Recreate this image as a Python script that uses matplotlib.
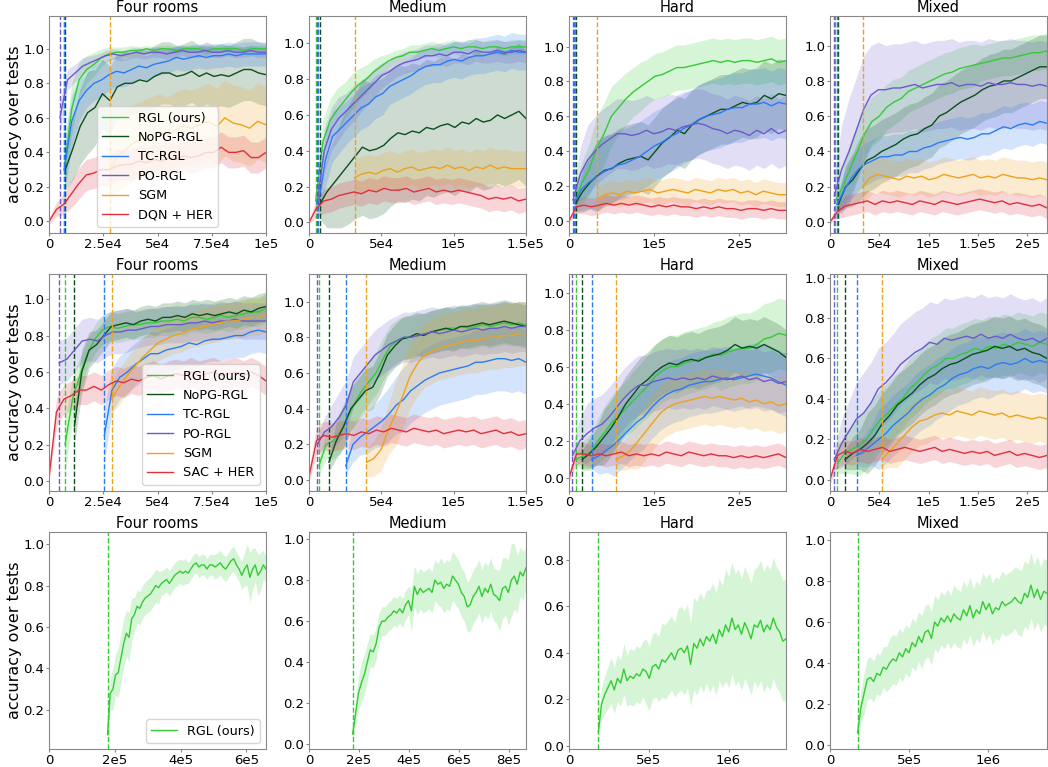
import numpy as np
import matplotlib
matplotlib.use('Agg')
import matplotlib.pyplot as plt

# method colours / labels
c_rgl = '#33cc33'
c_nopg = '#0b4f1c'
c_tc = '#2a7bf6'
c_po = '#6a5acd'
c_sgm = '#eea21b'
c_her = '#e0303c'

titles = ['Four rooms', 'Medium', 'Hard', 'Mixed']
xmax_top = [1e5, 1.5e5, 2.55e5, 2.2e5]
xmax_bot = [6.6e5, 8.7e5, 1.36e6, 1.37e6]

# ---------------- row 1 (DQN based) ----------------
r1c1_start = [7000, 7500, 7000, 5000, 28000, 0]
r1c1_rgl = [0.30, 0.65, 0.82, 0.88, 0.91, 0.95, 0.97, 0.98, 0.98, 0.99, 0.99, 1.0, 0.99, 1.0, 1.0, 0.99, 1.0, 1.0, 1.0, 0.99, 1.0, 1.0, 1.0, 1.0, 0.99, 1.0, 1.0, 1.0]
r1c1_rgl_sd = [0.12, 0.15, 0.10, 0.08, 0.07, 0.05, 0.04, 0.03, 0.03, 0.03] + [0.02] * 18
r1c1_nopg = [0.30, 0.42, 0.55, 0.63, 0.66, 0.74, 0.70, 0.78, 0.80, 0.80, 0.82, 0.81, 0.84, 0.86, 0.86, 0.84, 0.85, 0.87, 0.84, 0.86, 0.84, 0.85, 0.84, 0.86, 0.88, 0.88, 0.86, 0.85]
r1c1_nopg_sd = [0.12, 0.18, 0.22, 0.24, 0.22, 0.2, 0.2, 0.19] + [0.18] * 20
r1c1_tc = [0.30, 0.58, 0.70, 0.76, 0.80, 0.82, 0.85, 0.87, 0.86, 0.88, 0.90, 0.89, 0.91, 0.92, 0.93, 0.95, 0.94, 0.95, 0.96, 0.95, 0.96, 0.96, 0.97, 0.96, 0.97, 0.97, 0.97, 0.97]
r1c1_tc_sd = [0.15, 0.15, 0.12, 0.1, 0.1, 0.1, 0.09, 0.09, 0.08, 0.08] + [0.07] * 18
r1c1_po = [0.60, 0.82, 0.86, 0.90, 0.92, 0.94, 0.96, 0.97, 0.96, 0.97, 0.98, 0.97, 0.98, 0.98, 0.97, 0.98, 0.99, 0.98, 0.98, 0.99, 0.98, 0.98, 0.99, 0.98, 0.98, 0.99, 0.98, 0.98]
r1c1_po_sd = [0.1, 0.06, 0.05, 0.05, 0.04] + [0.03] * 23
r1c1_sgm = [0.30, 0.38, 0.42, 0.46, 0.48, 0.50, 0.52, 0.50, 0.53, 0.55, 0.54, 0.56, 0.58, 0.55, 0.60, 0.57, 0.56, 0.54, 0.58, 0.56]
r1c1_sgm_sd = [0.15, 0.2] + [0.22] * 18
r1c1_her = [0.0, 0.07, 0.10, 0.16, 0.22, 0.27, 0.28, 0.30, 0.30, 0.32, 0.33, 0.33, 0.35, 0.34, 0.36, 0.35, 0.37, 0.36, 0.38, 0.37, 0.38, 0.40, 0.40, 0.43, 0.40, 0.40, 0.41, 0.37, 0.37, 0.40]
r1c1_her_sd = [0.02, 0.04, 0.06, 0.08] + [0.09] * 26

r1c2_start = [4600, 7400, 6400, 5500, 31500, 0]
r1c2_rgl = [0.12, 0.45, 0.57, 0.63, 0.68, 0.73, 0.77, 0.80, 0.84, 0.87, 0.90, 0.92, 0.93, 0.95, 0.95, 0.96, 0.97, 0.96, 0.97, 0.98, 0.97, 0.98, 0.98, 0.97, 0.98, 0.98, 0.97, 0.98, 0.98, 0.98]
r1c2_rgl_sd = [0.05, 0.12, 0.12, 0.12, 0.1, 0.1, 0.09, 0.08, 0.07, 0.06] + [0.04] * 20
r1c2_nopg = [0.10, 0.17, 0.22, 0.27, 0.32, 0.37, 0.42, 0.40, 0.41, 0.43, 0.47, 0.50, 0.49, 0.51, 0.50, 0.53, 0.52, 0.54, 0.55, 0.53, 0.56, 0.55, 0.58, 0.56, 0.57, 0.60, 0.58, 0.60, 0.62, 0.58]
r1c2_nopg_sd = [0.08, 0.2, 0.25, 0.3, 0.33, 0.35] + [0.38] * 24
r1c2_tc = [0.10, 0.35, 0.48, 0.52, 0.56, 0.60, 0.64, 0.66, 0.70, 0.72, 0.76, 0.78, 0.80, 0.82, 0.85, 0.87, 0.88, 0.88, 0.90, 0.91, 0.90, 0.92, 0.93, 0.93, 0.94, 0.95, 0.94, 0.96, 0.95, 0.95]
r1c2_tc_sd = [0.08, 0.15, 0.14, 0.13, 0.12, 0.12, 0.12, 0.12, 0.12, 0.12] + [0.1] * 20
r1c2_po = [0.10, 0.40, 0.52, 0.58, 0.62, 0.66, 0.70, 0.74, 0.78, 0.82, 0.84, 0.87, 0.89, 0.90, 0.91, 0.93, 0.93, 0.94, 0.93, 0.95, 0.95, 0.94, 0.96, 0.95, 0.95, 0.96, 0.95, 0.95, 0.96, 0.95]
r1c2_po_sd = [0.08, 0.12, 0.12, 0.12, 0.1, 0.1, 0.09, 0.08, 0.08, 0.07] + [0.06] * 20
r1c2_sgm = [0.25, 0.27, 0.28, 0.27, 0.29, 0.30, 0.28, 0.30, 0.31, 0.29, 0.30, 0.31, 0.30, 0.32, 0.30, 0.31, 0.29, 0.31, 0.30, 0.32, 0.30, 0.31, 0.30, 0.30, 0.30]
r1c2_sgm_sd = [0.1] * 25
r1c2_her = [0.0, 0.08, 0.12, 0.13, 0.15, 0.16, 0.17, 0.16, 0.18, 0.17, 0.19, 0.18, 0.18, 0.19, 0.17, 0.18, 0.19, 0.17, 0.18, 0.17, 0.18, 0.17, 0.16, 0.15, 0.13, 0.14, 0.13, 0.14, 0.12, 0.13]
r1c2_her_sd = [0.01, 0.05] + [0.07] * 28

r1c3_start = [7000, 7800, 6000, 4700, 33000, 0]
r1c3_rgl = [0.12, 0.22, 0.30, 0.42, 0.50, 0.60, 0.65, 0.70, 0.74, 0.77, 0.80, 0.83, 0.84, 0.86, 0.88, 0.88, 0.89, 0.90, 0.91, 0.92, 0.91, 0.92, 0.91, 0.92, 0.92, 0.91, 0.92, 0.93, 0.91, 0.92]
r1c3_rgl_sd = [0.05, 0.12, 0.15, 0.18, 0.18, 0.17, 0.16, 0.15, 0.14, 0.14] + [0.13] * 20
r1c3_nopg = [0.10, 0.17, 0.22, 0.26, 0.29, 0.30, 0.33, 0.35, 0.36, 0.37, 0.35, 0.40, 0.45, 0.48, 0.52, 0.50, 0.55, 0.58, 0.60, 0.62, 0.64, 0.64, 0.66, 0.68, 0.67, 0.68, 0.72, 0.70, 0.73, 0.72]
r1c3_nopg_sd = [0.05, 0.12, 0.15] + [0.2] * 27
r1c3_tc = [0.10, 0.18, 0.22, 0.25, 0.28, 0.30, 0.32, 0.33, 0.35, 0.37, 0.40, 0.43, 0.45, 0.48, 0.50, 0.53, 0.55, 0.58, 0.60, 0.61, 0.62, 0.64, 0.65, 0.65, 0.67, 0.67, 0.68, 0.66, 0.68, 0.67]
r1c3_tc_sd = [0.05, 0.12, 0.15] + [0.2] * 27
r1c3_po = [0.12, 0.27, 0.35, 0.40, 0.44, 0.47, 0.50, 0.50, 0.49, 0.50, 0.52, 0.50, 0.51, 0.53, 0.52, 0.54, 0.55, 0.56, 0.55, 0.53, 0.52, 0.50, 0.52, 0.51, 0.49, 0.52, 0.50, 0.53, 0.50, 0.52]
r1c3_po_sd = [0.05, 0.15] + [0.2] * 28
r1c3_sgm = [0.12, 0.15, 0.16, 0.15, 0.17, 0.16, 0.17, 0.18, 0.16, 0.17, 0.18, 0.17, 0.16, 0.18, 0.17, 0.16, 0.18, 0.17, 0.18, 0.16, 0.17, 0.15, 0.17, 0.16, 0.15, 0.15]
r1c3_sgm_sd = [0.07] * 26
r1c3_her = [0.0, 0.08, 0.09, 0.08, 0.09, 0.10, 0.09, 0.10, 0.09, 0.10, 0.09, 0.08, 0.09, 0.08, 0.09, 0.08, 0.08, 0.07, 0.08, 0.07, 0.08, 0.07, 0.07, 0.06, 0.07, 0.07, 0.06, 0.07, 0.06, 0.06]
r1c3_her_sd = [0.01, 0.04] + [0.05] * 28

r1c4_start = [5500, 8500, 7000, 4400, 33000, 0]
r1c4_rgl = [0.12, 0.20, 0.30, 0.40, 0.50, 0.57, 0.60, 0.65, 0.68, 0.70, 0.74, 0.76, 0.78, 0.80, 0.82, 0.84, 0.85, 0.87, 0.88, 0.89, 0.90, 0.91, 0.92, 0.93, 0.93, 0.94, 0.95, 0.96, 0.96, 0.97]
r1c4_rgl_sd = [0.05, 0.12, 0.15, 0.15, 0.15, 0.14, 0.14, 0.13, 0.13, 0.12] + [0.12] * 10 + [0.1] * 10
r1c4_nopg = [0.10, 0.20, 0.24, 0.30, 0.35, 0.37, 0.40, 0.42, 0.44, 0.47, 0.49, 0.50, 0.53, 0.55, 0.60, 0.62, 0.65, 0.68, 0.70, 0.72, 0.75, 0.77, 0.78, 0.80, 0.80, 0.82, 0.84, 0.86, 0.88, 0.88]
r1c4_nopg_sd = [0.05, 0.12, 0.15] + [0.18] * 27
r1c4_tc = [0.10, 0.18, 0.25, 0.30, 0.33, 0.35, 0.37, 0.37, 0.38, 0.38, 0.40, 0.40, 0.42, 0.43, 0.45, 0.46, 0.47, 0.48, 0.47, 0.48, 0.50, 0.50, 0.52, 0.54, 0.53, 0.55, 0.56, 0.55, 0.57, 0.56]
r1c4_tc_sd = [0.05, 0.1] + [0.12] * 28
r1c4_po = [0.15, 0.30, 0.40, 0.52, 0.64, 0.72, 0.75, 0.75, 0.76, 0.76, 0.77, 0.78, 0.76, 0.77, 0.78, 0.78, 0.79, 0.77, 0.78, 0.78, 0.77, 0.79, 0.78, 0.78, 0.79, 0.78, 0.78, 0.77, 0.78, 0.77]
r1c4_po_sd = [0.1, 0.25, 0.3, 0.3, 0.3, 0.28, 0.27] + [0.25] * 23
r1c4_sgm = [0.20, 0.25, 0.27, 0.26, 0.25, 0.24, 0.26, 0.25, 0.26, 0.24, 0.25, 0.27, 0.26, 0.25, 0.26, 0.27, 0.25, 0.26, 0.25, 0.27, 0.26, 0.25, 0.25, 0.24, 0.25, 0.24]
r1c4_sgm_sd = [0.1] * 26
r1c4_her = [0.0, 0.06, 0.09, 0.10, 0.11, 0.12, 0.10, 0.12, 0.11, 0.12, 0.11, 0.10, 0.12, 0.11, 0.10, 0.12, 0.11, 0.10, 0.11, 0.12, 0.13, 0.12, 0.11, 0.12, 0.10, 0.11, 0.10, 0.09, 0.10, 0.08]
r1c4_her_sd = [0.01, 0.04] + [0.06] * 28

# ---------------- row 2 (SAC based) ----------------
r2c1_start = [7400, 11700, 25500, 4700, 28900, 0]
r2c1_rgl = [0.20, 0.45, 0.58, 0.70, 0.78, 0.83, 0.85, 0.84, 0.85, 0.86, 0.86, 0.87, 0.87, 0.88, 0.88, 0.89, 0.88, 0.90, 0.90, 0.89, 0.90, 0.91, 0.90, 0.91, 0.92, 0.93, 0.93, 0.95]
r2c1_rgl_sd = [0.15, 0.12, 0.1] + [0.08] * 25
r2c1_nopg = [0.30, 0.60, 0.72, 0.75, 0.80, 0.85, 0.86, 0.87, 0.86, 0.88, 0.89, 0.88, 0.90, 0.90, 0.91, 0.90, 0.92, 0.91, 0.92, 0.91, 0.92, 0.93, 0.92, 0.94, 0.93, 0.95, 0.96]
r2c1_nopg_sd = [0.1, 0.12, 0.1] + [0.08] * 24
r2c1_tc = [0.25, 0.50, 0.57, 0.60, 0.64, 0.67, 0.70, 0.70, 0.72, 0.73, 0.74, 0.76, 0.75, 0.77, 0.78, 0.78, 0.79, 0.80, 0.80, 0.82, 0.83, 0.82]
r2c1_tc_sd = [0.15] + [0.12] * 21
r2c1_po = [0.65, 0.67, 0.72, 0.77, 0.78, 0.77, 0.80, 0.82, 0.82, 0.83, 0.83, 0.84, 0.85, 0.85, 0.86, 0.86, 0.86, 0.87, 0.87, 0.88, 0.87, 0.88, 0.88, 0.89, 0.88, 0.88, 0.88, 0.88]
r2c1_po_sd = [0.12] * 10 + [0.1] * 18
r2c1_sgm = [0.45, 0.52, 0.58, 0.63, 0.68, 0.72, 0.76, 0.78, 0.80, 0.81, 0.83, 0.84, 0.85, 0.86, 0.87, 0.88, 0.88, 0.89, 0.90, 0.90, 0.92]
r2c1_sgm_sd = [0.08] + [0.1] * 20
r2c1_her = [0.02, 0.38, 0.45, 0.47, 0.50, 0.50, 0.52, 0.50, 0.53, 0.55, 0.54, 0.56, 0.55, 0.57, 0.58, 0.56, 0.58, 0.59, 0.58, 0.60, 0.58, 0.59, 0.60, 0.58, 0.59, 0.60, 0.58, 0.60, 0.58, 0.55]
r2c1_her_sd = [0.03] + [0.08] * 29

r2c2_start = [6900, 13800, 25400, 5800, 39700, 0]
r2c2_rgl = [0.08, 0.20, 0.22, 0.27, 0.35, 0.43, 0.50, 0.55, 0.60, 0.68, 0.75, 0.78, 0.80, 0.80, 0.81, 0.82, 0.83, 0.84, 0.85, 0.85, 0.86, 0.85, 0.86, 0.87, 0.86, 0.87, 0.88, 0.87, 0.88, 0.87]
r2c2_rgl_sd = [0.05, 0.08, 0.1] + [0.12] * 27
r2c2_nopg = [0.10, 0.22, 0.30, 0.40, 0.45, 0.50, 0.52, 0.60, 0.70, 0.75, 0.79, 0.80, 0.82, 0.81, 0.83, 0.84, 0.85, 0.84, 0.86, 0.86, 0.87, 0.88, 0.87, 0.88, 0.89, 0.88, 0.87, 0.86]
r2c2_nopg_sd = [0.05, 0.1] + [0.12] * 26
r2c2_tc = [0.08, 0.20, 0.24, 0.27, 0.30, 0.33, 0.37, 0.42, 0.45, 0.50, 0.53, 0.56, 0.58, 0.60, 0.61, 0.62, 0.63, 0.64, 0.66, 0.66, 0.67, 0.68, 0.68, 0.67, 0.68, 0.66]
r2c2_tc_sd = [0.05, 0.1, 0.1, 0.12, 0.12, 0.14, 0.15, 0.16] + [0.18] * 18
r2c2_po = [0.20, 0.27, 0.30, 0.35, 0.42, 0.55, 0.60, 0.65, 0.70, 0.73, 0.76, 0.78, 0.80, 0.80, 0.81, 0.82, 0.83, 0.82, 0.83, 0.84, 0.83, 0.84, 0.85, 0.84, 0.85, 0.85, 0.86, 0.85, 0.86, 0.86]
r2c2_po_sd = [0.05, 0.08, 0.12] + [0.14] * 27
r2c2_sgm = [0.10, 0.12, 0.17, 0.28, 0.37, 0.47, 0.58, 0.65, 0.70, 0.72, 0.74, 0.75, 0.76, 0.77, 0.78, 0.78, 0.79, 0.80, 0.80, 0.81, 0.81, 0.82, 0.82]
r2c2_sgm_sd = [0.08, 0.1, 0.12, 0.14] + [0.18] * 19
r2c2_her = [0.02, 0.22, 0.25, 0.24, 0.25, 0.26, 0.25, 0.27, 0.26, 0.28, 0.27, 0.29, 0.28, 0.27, 0.29, 0.28, 0.27, 0.28, 0.26, 0.27, 0.28, 0.27, 0.28, 0.26, 0.27, 0.28, 0.26, 0.27, 0.25, 0.26]
r2c2_her_sd = [0.03] + [0.08] * 29

r2c3_start = [8200, 15300, 26700, 4000, 55300, 0]
r2c3_rgl = [0.10, 0.12, 0.14, 0.20, 0.25, 0.30, 0.34, 0.38, 0.42, 0.46, 0.50, 0.55, 0.58, 0.60, 0.60, 0.62, 0.63, 0.64, 0.65, 0.67, 0.66, 0.68, 0.69, 0.70, 0.70, 0.72, 0.75, 0.76, 0.78, 0.77]
r2c3_rgl_sd = [0.03, 0.08, 0.1, 0.12, 0.14, 0.15, 0.15, 0.15, 0.16, 0.16] + [0.17] * 10 + [0.19] * 10
r2c3_nopg = [0.10, 0.13, 0.17, 0.22, 0.27, 0.33, 0.40, 0.45, 0.50, 0.53, 0.57, 0.60, 0.62, 0.61, 0.63, 0.64, 0.63, 0.65, 0.66, 0.67, 0.69, 0.72, 0.70, 0.71, 0.70, 0.72, 0.70, 0.68, 0.65]
r2c3_nopg_sd = [0.05, 0.08, 0.1] + [0.15] * 26
r2c3_tc = [0.10, 0.12, 0.15, 0.18, 0.22, 0.26, 0.30, 0.33, 0.38, 0.42, 0.45, 0.47, 0.48, 0.50, 0.51, 0.52, 0.52, 0.53, 0.54, 0.53, 0.54, 0.55, 0.56, 0.55, 0.54, 0.52, 0.50]
r2c3_tc_sd = [0.05, 0.1, 0.12] + [0.17] * 24
r2c3_po = [0.12, 0.20, 0.24, 0.27, 0.29, 0.33, 0.38, 0.43, 0.47, 0.50, 0.50, 0.52, 0.53, 0.54, 0.53, 0.54, 0.53, 0.54, 0.53, 0.55, 0.54, 0.53, 0.54, 0.55, 0.53, 0.54, 0.52, 0.53, 0.51, 0.52]
r2c3_po_sd = [0.05, 0.12] + [0.16] * 28
r2c3_sgm = [0.10, 0.12, 0.15, 0.20, 0.25, 0.30, 0.35, 0.38, 0.40, 0.41, 0.42, 0.43, 0.44, 0.43, 0.44, 0.43, 0.42, 0.43, 0.41, 0.42, 0.40, 0.41, 0.39, 0.40]
r2c3_sgm_sd = [0.05, 0.08, 0.1] + [0.15] * 21
r2c3_her = [0.0, 0.13, 0.13, 0.12, 0.13, 0.12, 0.13, 0.14, 0.12, 0.13, 0.12, 0.13, 0.12, 0.14, 0.13, 0.12, 0.14, 0.13, 0.12, 0.13, 0.12, 0.12, 0.11, 0.12, 0.11, 0.12, 0.11, 0.12, 0.13, 0.11]
r2c3_her_sd = [0.02] + [0.06] * 29

r2c4_start = [7500, 15300, 27200, 4400, 52700, 0]
r2c4_rgl = [0.08, 0.13, 0.15, 0.17, 0.20, 0.25, 0.30, 0.33, 0.37, 0.40, 0.45, 0.48, 0.52, 0.55, 0.57, 0.60, 0.60, 0.62, 0.63, 0.65, 0.64, 0.66, 0.65, 0.67, 0.66, 0.68, 0.67, 0.66, 0.68, 0.67]
r2c4_rgl_sd = [0.05, 0.1, 0.12] + [0.15] * 27
r2c4_nopg = [0.10, 0.13, 0.15, 0.18, 0.22, 0.28, 0.32, 0.37, 0.40, 0.43, 0.47, 0.50, 0.52, 0.55, 0.57, 0.58, 0.60, 0.62, 0.63, 0.64, 0.66, 0.65, 0.66, 0.64, 0.65, 0.63, 0.62, 0.60]
r2c4_nopg_sd = [0.05, 0.08, 0.1] + [0.15] * 25
r2c4_tc = [0.12, 0.14, 0.17, 0.20, 0.23, 0.27, 0.30, 0.33, 0.37, 0.40, 0.42, 0.45, 0.47, 0.50, 0.52, 0.53, 0.55, 0.56, 0.55, 0.57, 0.58, 0.57, 0.58, 0.60, 0.58, 0.59, 0.58]
r2c4_tc_sd = [0.05, 0.08, 0.1] + [0.15] * 24
r2c4_po = [0.10, 0.18, 0.24, 0.30, 0.33, 0.38, 0.45, 0.48, 0.52, 0.57, 0.60, 0.63, 0.65, 0.68, 0.67, 0.70, 0.69, 0.70, 0.71, 0.70, 0.72, 0.70, 0.71, 0.70, 0.72, 0.70, 0.69, 0.70, 0.68, 0.70]
r2c4_po_sd = [0.05, 0.12, 0.15, 0.18] + [0.2] * 26
r2c4_sgm = [0.10, 0.14, 0.18, 0.22, 0.26, 0.29, 0.30, 0.32, 0.33, 0.32, 0.34, 0.33, 0.32, 0.34, 0.33, 0.32, 0.33, 0.31, 0.32, 0.31, 0.30, 0.31, 0.30]
r2c4_sgm_sd = [0.05, 0.08] + [0.12] * 21
r2c4_her = [0.0, 0.12, 0.14, 0.13, 0.15, 0.14, 0.15, 0.16, 0.14, 0.15, 0.16, 0.15, 0.14, 0.15, 0.16, 0.14, 0.15, 0.14, 0.13, 0.14, 0.13, 0.14, 0.12, 0.13, 0.14, 0.12, 0.13, 0.12, 0.11, 0.12]
r2c4_her_sd = [0.02] + [0.06] * 29

# ---------------- row 3 (RGL only, long runs) ----------------
r3_start = [178000, 175000, 184000, 174000]
r3c1_rgl = [0.08, 0.28, 0.30, 0.37, 0.38, 0.45, 0.52, 0.57, 0.55, 0.64,
            0.66, 0.70, 0.69, 0.72, 0.74, 0.75, 0.76, 0.78, 0.80, 0.79,
            0.81, 0.82, 0.83, 0.81, 0.83, 0.85, 0.86, 0.87, 0.86, 0.87,
            0.86, 0.88, 0.90, 0.91, 0.89, 0.90, 0.90, 0.88, 0.90, 0.90,
            0.89, 0.90, 0.91, 0.89, 0.88, 0.90, 0.92, 0.93, 0.90, 0.88,
            0.85, 0.88, 0.90, 0.84, 0.88, 0.90, 0.85, 0.87, 0.90, 0.88]
r3c1_rgl_sd = ([0.05, 0.08, 0.1, 0.1, 0.12, 0.12, 0.12, 0.11, 0.12, 0.1] + [0.08] * 10 + [0.06] * 10
               + [0.05] * 10 + [0.06] * 10 + [0.07, 0.08, 0.1, 0.12, 0.1, 0.08, 0.1, 0.09, 0.07, 0.06])
r3c2_rgl = [0.05, 0.15, 0.25, 0.30, 0.34, 0.40, 0.46, 0.45, 0.49, 0.57,
            0.60, 0.60, 0.62, 0.63, 0.65, 0.64, 0.66, 0.64, 0.68, 0.70,
            0.65, 0.77, 0.73, 0.76, 0.74, 0.75, 0.76, 0.74, 0.80, 0.78,
            0.79, 0.76, 0.78, 0.77, 0.82, 0.80, 0.78, 0.74, 0.72, 0.67,
            0.68, 0.72, 0.74, 0.77, 0.72, 0.76, 0.74, 0.78, 0.73, 0.72,
            0.70, 0.76, 0.77, 0.74, 0.80, 0.82, 0.78, 0.84, 0.82, 0.86]
r3c2_rgl_sd = ([0.03, 0.06, 0.08, 0.1, 0.1, 0.09, 0.08, 0.08, 0.08, 0.07] + [0.07] * 10 + [0.1] * 10
               + [0.12] * 10 + [0.13] * 10 + [0.15, 0.15, 0.14, 0.16, 0.18, 0.16, 0.14, 0.12, 0.12, 0.1])
r3c3_rgl = [0.06, 0.18, 0.22, 0.25, 0.28, 0.24, 0.29, 0.27, 0.33, 0.28,
            0.30, 0.29, 0.31, 0.30, 0.33, 0.32, 0.29, 0.34, 0.35, 0.33,
            0.37, 0.36, 0.38, 0.40, 0.37, 0.41, 0.42, 0.40, 0.43, 0.35,
            0.44, 0.42, 0.46, 0.43, 0.47, 0.45, 0.48, 0.44, 0.50, 0.47,
            0.52, 0.49, 0.55, 0.50, 0.52, 0.48, 0.53, 0.50, 0.46, 0.52,
            0.51, 0.54, 0.49, 0.52, 0.50, 0.55, 0.51, 0.49, 0.45, 0.46]
r3c3_rgl_sd = ([0.03, 0.07, 0.08, 0.09, 0.1, 0.1, 0.1, 0.1, 0.11, 0.11] + [0.12] * 5 + [0.14] * 5
               + [0.16] * 5 + [0.18] * 5 + [0.2] * 5 + [0.22] * 5 + [0.24] * 10 + [0.26] * 10)
r3c4_rgl = [0.06, 0.18, 0.25, 0.32, 0.33, 0.31, 0.35, 0.34, 0.38, 0.37,
            0.40, 0.42, 0.41, 0.45, 0.43, 0.47, 0.45, 0.50, 0.48, 0.53,
            0.50, 0.55, 0.56, 0.52, 0.60, 0.58, 0.62, 0.60, 0.63, 0.60,
            0.64, 0.62, 0.61, 0.66, 0.63, 0.68, 0.62, 0.66, 0.64, 0.70,
            0.66, 0.69, 0.64, 0.67, 0.66, 0.70, 0.68, 0.69, 0.70, 0.72,
            0.70, 0.69, 0.74, 0.72, 0.78, 0.72, 0.76, 0.71, 0.75, 0.74]
r3c4_rgl_sd = ([0.04, 0.08, 0.1, 0.1, 0.1, 0.1, 0.1, 0.1, 0.1, 0.11] + [0.12] * 10 + [0.13] * 10
               + [0.14] * 10 + [0.15] * 10 + [0.16] * 10)

x_ticks_top = [[0, 2.5e4, 5e4, 7.5e4, 1e5], [0, 5e4, 1e5, 1.5e5], [0, 1e5, 2e5], [0, 5e4, 1e5, 1.5e5, 2e5]]
x_labels_top = [['0', '2.5e4', '5e4', '7.5e4', '1e5'], ['0', '5e4', '1e5', '1.5e5'], ['0', '1e5', '2e5'], ['0', '5e4', '1e5', '1.5e5', '2e5']]
x_ticks_bot = [[0, 2e5, 4e5, 6e5], [0, 2e5, 4e5, 6e5, 8e5], [0, 5e5, 1e6], [0, 5e5, 1e6]]
x_labels_bot = [['0', '2e5', '4e5', '6e5'], ['0', '2e5', '4e5', '6e5', '8e5'], ['0', '5e5', '1e6'], ['0', '5e5', '1e6']]

ylims = [[(-0.067, 1.19), (-0.059, 1.152), (-0.07, 1.176), (-0.062, 1.168)],
         [(-0.056, 1.139), (-0.061, 1.154), (-0.07, 1.10), (-0.056, 1.018)],
         [(0.011, 1.059), (-0.024, 1.035), (-0.014, 0.92), (-0.019, 1.039)]]

colors = [c_rgl, c_nopg, c_tc, c_po, c_sgm, c_her]
labels_top = ['RGL (ours)', 'NoPG-RGL', 'TC-RGL', 'PO-RGL', 'SGM', 'DQN + HER']
labels_mid = ['RGL (ours)', 'NoPG-RGL', 'TC-RGL', 'PO-RGL', 'SGM', 'SAC + HER']

g = globals()


def curve(ax, start, stop, mean, sd, color, label=None):
    x = np.linspace(start, stop, len(mean))
    m = np.array(mean)
    s = np.array(sd)
    ax.fill_between(x, m - s, m + s, color=color, alpha=0.2, lw=0)
    ax.plot(x, m, color=color, lw=1, label=label)
    if start > 0:
        ax.axvline(start, color=color, ls='--', lw=1)


def style(ax, title):
    ax.set_title(title, fontsize=10.5, pad=3)
    ax.tick_params(labelsize=9.5, length=2, pad=1.5, color='#888888')
    for s in ax.spines.values():
        s.set_color('#888888')


fig = plt.figure(figsize=(10.48, 7.67), dpi=100)
W, H = 1048, 767
col_left = [49, 309, 569, 830]
row_top = [16, 274, 532]
size = 217

keys = ['rgl', 'nopg', 'tc', 'po', 'sgm', 'her']
for r in range(3):
    for c in range(4):
        ax = fig.add_axes([col_left[c] / W, 1 - (row_top[r] + size) / H, size / W, size / H])
        if r < 2:
            xmax = xmax_top[c]
            starts = g['r%dc%d_start' % (r + 1, c + 1)]
            labs = labels_top if r == 0 else labels_mid
            for i, k in enumerate(keys):
                mean = g['r%dc%d_%s' % (r + 1, c + 1, k)]
                sd = g['r%dc%d_%s_sd' % (r + 1, c + 1, k)]
                curve(ax, starts[i], xmax, mean, sd, colors[i], labs[i])
            ax.set_xticks(x_ticks_top[c])
            ax.set_xticklabels(x_labels_top[c])
        else:
            xmax = xmax_bot[c]
            mean = g['r3c%d_rgl' % (c + 1)]
            sd = g['r3c%d_rgl_sd' % (c + 1)]
            curve(ax, r3_start[c], xmax, mean, sd, c_rgl, 'RGL (ours)')
            ax.set_xticks(x_ticks_bot[c])
            ax.set_xticklabels(x_labels_bot[c])
        ax.set_xlim(0, xmax)
        ax.set_ylim(*ylims[r][c])
        style(ax, titles[c])
        if c == 0:
            ax.set_ylabel('accuracy over tests', fontsize=11.5, labelpad=1)
            loc = 'lower center' if r == 0 else 'lower right'
            ax.legend(loc=loc, fontsize=9.2)

fig.savefig('out.png', dpi=100)
